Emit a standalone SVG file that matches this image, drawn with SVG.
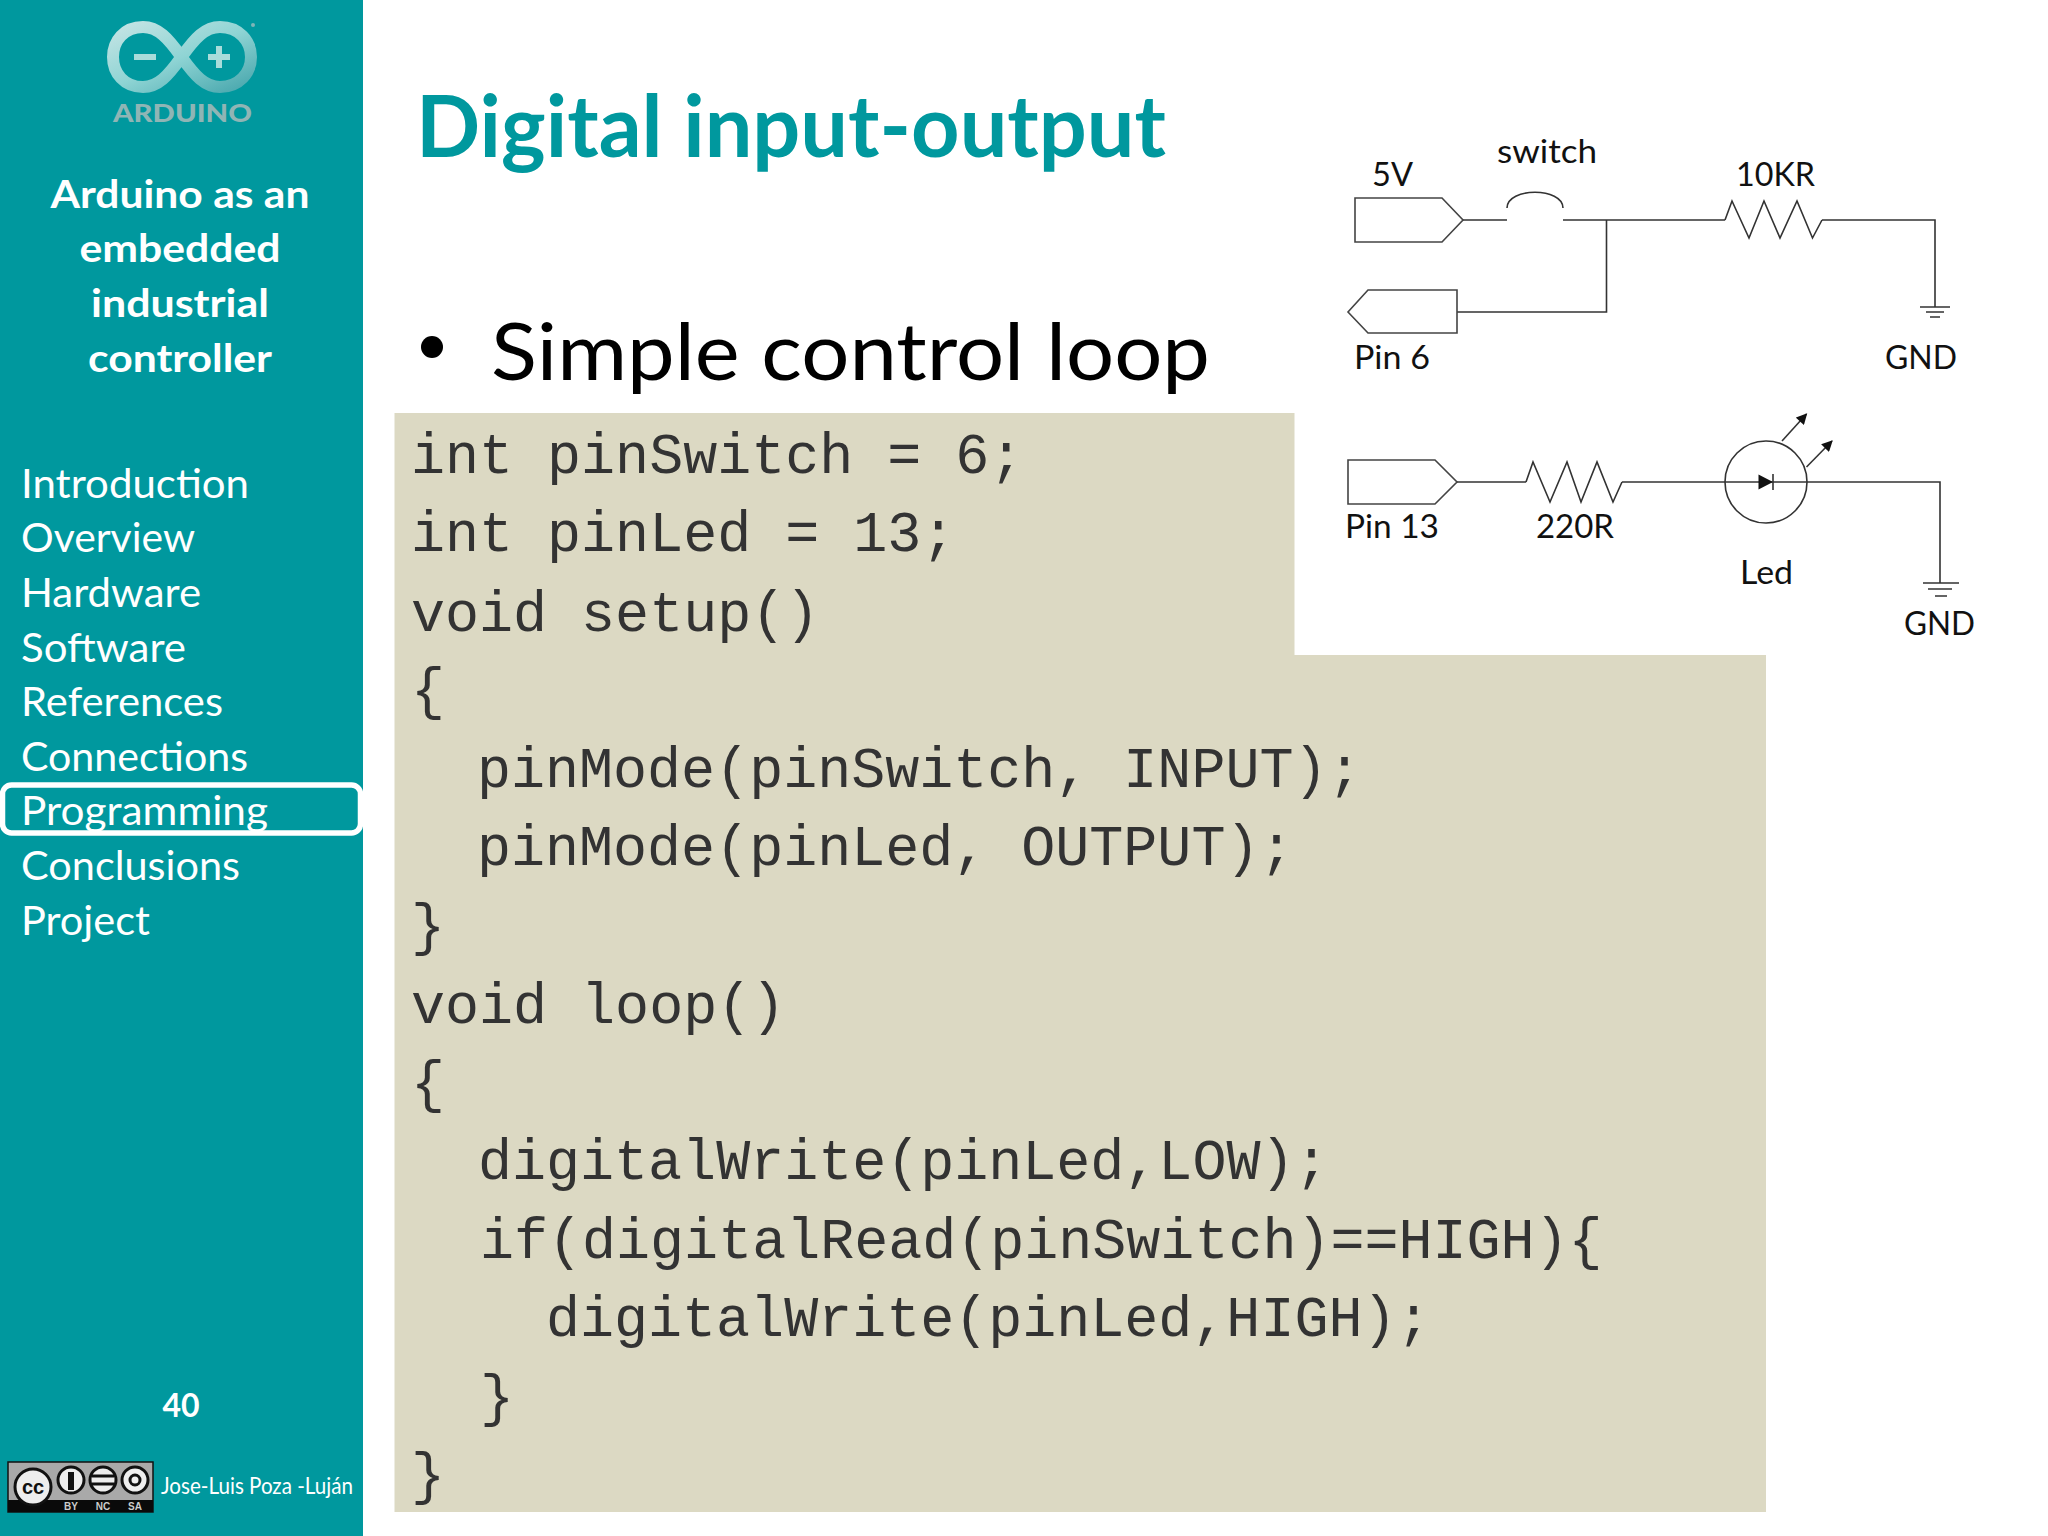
<svg xmlns="http://www.w3.org/2000/svg" width="2048" height="1536" viewBox="0 0 2048 1536">
<style>
.s{font-family:Lato,"Liberation Sans",sans-serif}
.hd{font-size:39px;font-weight:700;fill:#fff;text-anchor:middle}
.nav{font-size:40px;fill:#fff}
.lb{font-size:33px;fill:#111}
.code{font-family:"Liberation Mono","Courier New",monospace;font-size:56.7px;fill:#333}
.w{fill:none;stroke:#333;stroke-width:1.6}
.box{fill:#fff;stroke:#444;stroke-width:1.6}
</style>
<defs>
<marker id="ah" viewBox="0 0 10 10" refX="9" refY="5" markerWidth="12" markerHeight="11" markerUnits="userSpaceOnUse" orient="auto"><path d="M0 0L10 5L0 10Z" fill="#111"/></marker>
<linearGradient id="lg" x1="0" y1="0" x2="1" y2="1"><stop offset="0" stop-color="#c4e4e4"/><stop offset=".5" stop-color="#8fd4d4"/><stop offset="1" stop-color="#4aa8ae"/></linearGradient>
</defs>
<rect width="2048" height="1536" fill="#fff"/>
<rect id="sidebar" width="363" height="1536" fill="#00989e"/>
<g id="logo">
<path d="M181.500 57C168 38 158 27 143 27C124 27 113 41 113 57C113 73 124 87 143 87C158 87 168 76 181.500 57C195 38 205 27 220 27C239 27 251 41 251 57C251 73 239 87 220 87C205 87 195 76 181.500 57Z" fill="none" stroke="url(#lg)" stroke-width="12"/>
<path d="M134 57H156M208 57H230M219 46V68" fill="none" stroke="#a9dcda" stroke-width="6"/>
<circle cx="253" cy="25" r="2" fill="#7fb5b8"/>
<text x="113" y="122" class="s" font-size="25" font-weight="900" fill="#8fb5b5" textLength="139" lengthAdjust="spacingAndGlyphs">ARDUINO</text>
</g>
<g id="deck-title" class="s">
<text x="180" y="208" class="hd" textLength="259" lengthAdjust="spacingAndGlyphs">Arduino as an</text>
<text x="180" y="262" class="hd" textLength="201" lengthAdjust="spacingAndGlyphs">embedded</text>
<text x="180" y="317" class="hd" textLength="178" lengthAdjust="spacingAndGlyphs">industrial</text>
<text x="180" y="372" class="hd" textLength="184" lengthAdjust="spacingAndGlyphs">controller</text>
</g>
<g id="nav" class="s">
<text x="21" y="498" class="nav" textLength="228" lengthAdjust="spacingAndGlyphs">Introduction</text>
<text x="21" y="552" class="nav" textLength="174" lengthAdjust="spacingAndGlyphs">Overview</text>
<text x="21" y="607" class="nav" textLength="180" lengthAdjust="spacingAndGlyphs">Hardware</text>
<text x="21" y="662" class="nav" textLength="165" lengthAdjust="spacingAndGlyphs">Software</text>
<text x="21" y="716" class="nav" textLength="202" lengthAdjust="spacingAndGlyphs">References</text>
<text x="21" y="771" class="nav" textLength="227" lengthAdjust="spacingAndGlyphs">Connections</text>
<text x="21" y="825" class="nav" textLength="247" lengthAdjust="spacingAndGlyphs">Programming</text>
<rect id="nav-highlight" x="2.500" y="785" width="358" height="48" rx="9" fill="none" stroke="#fff" stroke-width="5.500"/>
<text x="21" y="880" class="nav" textLength="219" lengthAdjust="spacingAndGlyphs">Conclusions</text>
<text x="21" y="935" class="nav" textLength="129" lengthAdjust="spacingAndGlyphs">Project</text>
</g>
<text id="page-number" x="181" y="1417" class="s" font-size="32" font-weight="700" fill="#fff" text-anchor="middle">40</text>
<g id="cc-badge">
<rect x="8" y="1462" width="145" height="50" fill="#a9a9a9" stroke="#111" stroke-width="1.500"/>
<rect x="8" y="1500" width="145" height="12" fill="#0a0a0a"/>
<circle cx="33" cy="1487" r="18" fill="#eee" stroke="#111" stroke-width="3"/>
<text x="33" y="1494" font-family="Liberation Sans,sans-serif" font-weight="700" font-size="20" text-anchor="middle" fill="#111">cc</text>
<g fill="#eee" stroke="#111" stroke-width="3"><circle cx="71" cy="1480" r="13"/><circle cx="103" cy="1480" r="13"/><circle cx="135" cy="1480" r="13"/></g>
<path d="M71 1472V1490" stroke="#111" stroke-width="6"/>
<path d="M92 1476H114M92 1484H114" stroke="#111" stroke-width="3"/>
<circle cx="135" cy="1480" r="5" fill="none" stroke="#111" stroke-width="3"/>
<g font-family="Liberation Sans,sans-serif" font-weight="700" font-size="10" fill="#ccc" text-anchor="middle"><text x="71" y="1510">BY</text><text x="103" y="1510">NC</text><text x="135" y="1510">SA</text></g>
</g>
<text id="author" x="161" y="1494" class="s" font-size="23" fill="#fff" textLength="192" lengthAdjust="spacingAndGlyphs">Jose-Luis Poza -Luján</text>
<text id="title" x="416" y="157" class="s" font-size="87" font-weight="700" fill="#00989e" textLength="750" lengthAdjust="spacingAndGlyphs">Digital input-output</text>
<g id="bullet">
<circle cx="432" cy="347" r="11" fill="#000"/>
<text x="491" y="380" class="s" font-size="80" fill="#000" textLength="719" lengthAdjust="spacingAndGlyphs">Simple control loop</text>
</g>
<path id="code-bg" d="M394.500 413H1294.500V655H1766V1512H394.500Z" fill="#dcd9c3"/>
<g id="code" class="code">
<text x="411" y="473">int pinSwitch = 6;</text>
<text x="411" y="551">int pinLed = 13;</text>
<text x="411" y="631">void setup()</text>
<text x="411" y="708">{</text>
<text x="477" y="787">pinMode(pinSwitch, INPUT);</text>
<text x="477" y="865">pinMode(pinLed, OUTPUT);</text>
<text x="411" y="944">}</text>
<text x="411" y="1023">void loop()</text>
<text x="411" y="1101">{</text>
<text x="478" y="1179">digitalWrite(pinLed,LOW);</text>
<text x="480" y="1258">if(digitalRead(pinSwitch)==HIGH){</text>
<text x="546" y="1336">digitalWrite(pinLed,HIGH);</text>
<text x="480" y="1415">}</text>
<text x="411" y="1493">}</text>
</g>
<g id="connectors">
<path class="w" d="M1463 220H1507M1563 220H1725M1822 220H1935V307M1606.500 220V312H1457"/>
<path class="w" d="M1457 482H1526M1622 482H1940V583"/>
<path class="w" d="M1782 441L1806.500 414" marker-end="url(#ah)"/>
<path class="w" d="M1806.500 467L1832 441" marker-end="url(#ah)"/>
</g>
<g id="pin-5v"><path class="box" d="M1355 198H1442L1463 220L1442 242H1355Z"/><text x="1372" y="186" class="s lb" textLength="41" lengthAdjust="spacingAndGlyphs">5V</text></g>
<g id="switch"><path class="w" d="M1507 208C1507 187 1563 187 1563 208"/><text x="1497" y="163" class="s lb" textLength="100" lengthAdjust="spacingAndGlyphs">switch</text></g>
<g id="r-10k"><path class="w" d="M1725 220L1732 201L1749 238L1764 201L1780 238L1797 201L1812.500 238L1822 220"/><text x="1736" y="186" class="s lb" textLength="79" lengthAdjust="spacingAndGlyphs">10KR</text></g>
<g id="pin-6"><path class="box" d="M1457 290H1368L1348 312L1368 333H1457Z"/><text x="1354" y="369" class="s lb" textLength="76" lengthAdjust="spacingAndGlyphs">Pin 6</text></g>
<g id="gnd-1"><path class="w" d="M1920 307H1950M1926 312H1944M1930 317H1940"/><text x="1885" y="369" class="s lb" textLength="72" lengthAdjust="spacingAndGlyphs">GND</text></g>
<g id="pin-13"><path class="box" d="M1348 460H1435L1457 482L1435 504H1348Z"/><text x="1345" y="538" class="s lb" textLength="94" lengthAdjust="spacingAndGlyphs">Pin 13</text></g>
<g id="r-220"><path class="w" d="M1526 482L1533 462L1550 502L1567 462L1581 502L1597 462L1613 502L1622 482"/><text x="1536" y="538" class="s lb" textLength="78" lengthAdjust="spacingAndGlyphs">220R</text></g>
<g id="led"><circle class="w" cx="1766" cy="482" r="41"/><path d="M1758.500 474.500L1773 482L1758.500 489.500Z" fill="#111"/><path class="w" d="M1773 474V490"/><text x="1740" y="584" class="s lb" textLength="53" lengthAdjust="spacingAndGlyphs">Led</text></g>
<g id="gnd-2"><path class="w" d="M1923 583H1959M1928 589H1952M1935 596H1947"/><text x="1904" y="635" class="s lb" textLength="71" lengthAdjust="spacingAndGlyphs">GND</text></g>
</svg>
